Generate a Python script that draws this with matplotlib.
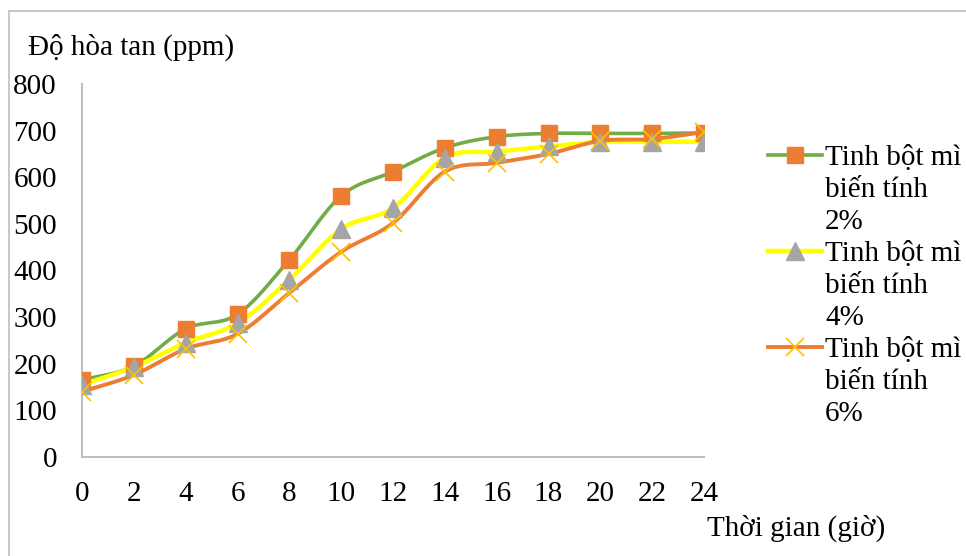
import numpy as np
import matplotlib
matplotlib.use("Agg")
import matplotlib.pyplot as plt
from matplotlib.lines import Line2D
from matplotlib.patches import Rectangle

plt.rcParams['font.family'] = ['Liberation Serif', 'DejaVu Serif']

hours = [0, 2, 4, 6, 8, 10, 12, 14, 16, 18, 20, 22, 24]
sol_2 = [165, 195, 275, 306, 423, 560, 612, 663, 687, 694, 694, 694, 695]
sol_4 = [155, 193, 245, 287, 380, 489, 534, 642, 655, 666, 676, 676, 676]
sol_6 = [140, 176, 232, 264, 352, 440, 502, 612, 631, 650, 678, 682, 697]
labels = [["Tinh bột mì", "biến tính", "2%"],
          ["Tinh bột mì", "biến tính", "4%"],
          ["Tinh bột mì", "biến tính", "6%"]]
y_ticks = [0, 100, 200, 300, 400, 500, 600, 700, 800]


def smooth(x, y, n=20):
    """Catmull-Rom curve through the points (like a spreadsheet 'smoothed line')."""
    x = np.asarray(x, float)
    y = np.asarray(y, float)
    px = np.concatenate([[2 * x[0] - x[1]], x, [2 * x[-1] - x[-2]]])
    py = np.concatenate([[2 * y[0] - y[1]], y, [2 * y[-1] - y[-2]]])
    xs, ys = [], []
    t = np.linspace(0, 1, n, endpoint=False)
    for i in range(1, len(px) - 2):
        for p, out in ((px, xs), (py, ys)):
            p0, p1, p2, p3 = p[i - 1], p[i], p[i + 1], p[i + 2]
            out.extend(0.5 * ((2 * p1) + (-p0 + p2) * t
                              + (2 * p0 - 5 * p1 + 4 * p2 - p3) * t ** 2
                              + (-p0 + 3 * p1 - 3 * p2 + p3) * t ** 3))
    xs.append(x[-1])
    ys.append(y[-1])
    return np.array(xs), np.array(ys)


fig = plt.figure(figsize=(9.66, 5.56), dpi=100)
ax = fig.add_axes([82 / 966, 1 - 457 / 556, (704 - 82) / 966, (457 - 84) / 556])

styles = [
    dict(color="#70AD47", lw=2.6, marker="s", mfc="#ED7D31", mec="#ED7D31", ms=12, mew=1),
    dict(color="#FFFF00", lw=3.2, marker="^", mfc="#A5A5A5", mec="#A5A5A5", ms=13, mew=1),
    dict(color="#ED7D31", lw=2.8, marker="x", mfc="#FFC000", mec="#FFC000", ms=13, mew=1.2),
]
handles, texts = [], []
for ys, st, lab in zip([sol_2, sol_4, sol_6], styles, labels):
    sx, sy = smooth(hours, ys)
    ax.plot(sx, sy, color=st["color"], lw=st["lw"], solid_capstyle="round", zorder=2)
    ax.plot(hours, ys, ls="none", marker=st["marker"], mfc=st["mfc"], mec=st["mec"],
            ms=st["ms"], mew=st["mew"], zorder=3)
    # key sits beside the first line of each wrapped label
    handles.append(Line2D([], [], color=st["color"], lw=st["lw"], marker=st["marker"],
                          mfc=st["mfc"], mec=st["mec"], ms=st["ms"], mew=st["mew"]))
    texts.append(lab[0])
    for extra in lab[1:]:
        handles.append(Line2D([], [], color="none", lw=0))
        texts.append(extra)

ax.set_xlim(0, 24)
ax.set_ylim(0, 800)
ax.set_xticks(hours)
ax.set_yticks(y_ticks)
ax.tick_params(length=0, labelsize=21, colors="black")
ax.tick_params(axis="x", pad=17)
ax.tick_params(axis="y", pad=18)
for s in ["top", "right"]:
    ax.spines[s].set_visible(False)
for s in ["left", "bottom"]:
    ax.spines[s].set_color("#BFBFBF")
    ax.spines[s].set_linewidth(1.5)

fig.text(28 / 966, 1 - 47 / 556, "Độ hòa tan (ppm)", fontsize=21, va="center", ha="left")
fig.text(707 / 966, 1 - 528 / 556, "Thời gian (giờ)", fontsize=21, va="center", ha="left")

leg = fig.legend(handles, texts, loc="upper left", bbox_to_anchor=(768 / 966, 1 - 145 / 556),
                 frameon=False, fontsize=21, handlelength=1.85, handletextpad=0.1,
                 labelspacing=0.19, borderpad=0, borderaxespad=0)

fig.add_artist(Rectangle((9 / 966, -0.1), 1.2, 1.1 - 11 / 556, transform=fig.transFigure,
                         fill=False, ec="#BFBFBF", lw=1.2))

fig.savefig("out.png", dpi=100)
